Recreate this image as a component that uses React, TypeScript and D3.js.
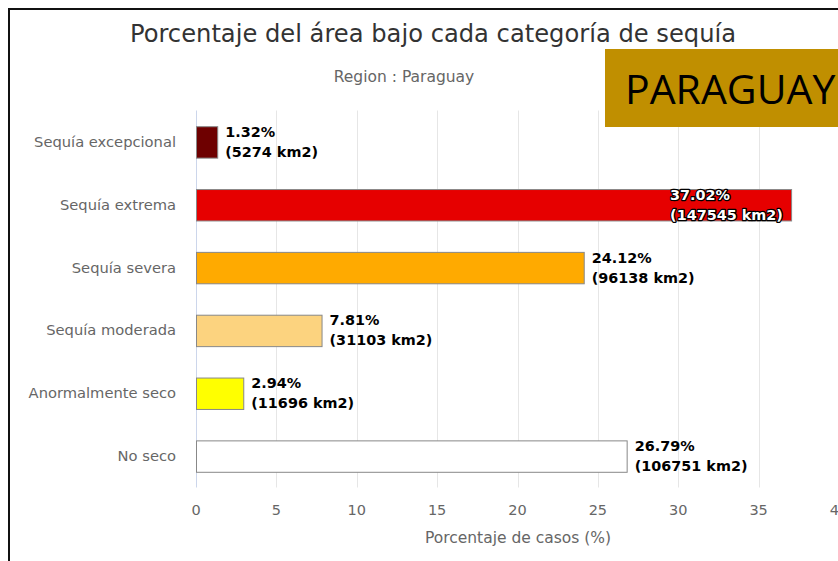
import React, { useEffect, useRef } from 'react';
import * as d3 from 'd3';

// datos
const categories = ['Sequía excepcional', 'Sequía extrema', 'Sequía severa', 'Sequía moderada', 'Anormalmente seco', 'No seco'];
const percents = [1.32, 37.02, 24.12, 7.81, 2.94, 26.79];
const areas = [5274, 147545, 96138, 31103, 11696, 106751];
const colors = ['#6e0000', '#e60000', '#ffaa00', '#fcd37f', '#ffff00', '#ffffff'];
const ticks = [0, 5, 10, 15, 20, 25, 30, 35, 40];

const font = '"DejaVu Sans", sans-serif';

export default function App() {
  const ref = useRef<SVGSVGElement>(null);

  useEffect(() => {
    document.body.style.margin = '0';
    const svg = d3.select(ref.current);
    svg.selectAll('*').remove();

    const left = 196, right = 839, top = 110.5, bottom = 487.5;
    const x = d3.scaleLinear().domain([0, 40]).range([left, right]);
    const y = d3.scaleBand().domain(categories).range([top, bottom]).paddingInner(0.5).paddingOuter(0.25);

    svg.append('rect').attr('width', 838).attr('height', 561).attr('fill', '#fff');

    // marco
    svg.append('path').attr('d', 'M9,561 L9,9 L840,9').attr('fill', 'none').attr('stroke', '#111').attr('stroke-width', 2);

    svg.append('text').attr('x', 433).attr('y', 42).attr('text-anchor', 'middle')
      .attr('font-family', font).attr('font-size', 24.2).attr('fill', '#333')
      .text('Porcentaje del área bajo cada categoría de sequía');
    svg.append('text').attr('x', 404).attr('y', 82).attr('text-anchor', 'middle')
      .attr('font-family', font).attr('font-size', 15.5).attr('fill', '#666')
      .text('Region : Paraguay');

    // rejilla
    svg.append('g').selectAll('line').data(ticks).enter().append('line')
      .attr('x1', d => Math.round(x(d)) + 0.5).attr('x2', d => Math.round(x(d)) + 0.5)
      .attr('y1', top).attr('y2', bottom)
      .attr('stroke', d => d === 0 ? '#ccd6eb' : '#e6e6e6').attr('stroke-width', 1);

    svg.append('g').selectAll('text').data(ticks).enter().append('text')
      .attr('x', d => x(d)).attr('y', 515).attr('text-anchor', 'middle')
      .attr('font-family', font).attr('font-size', 14.5).attr('fill', '#666')
      .text(d => d);

    svg.append('text').attr('x', 518).attr('y', 543).attr('text-anchor', 'middle')
      .attr('font-family', font).attr('font-size', 15.5).attr('fill', '#666')
      .text('Porcentaje de casos (%)');

    svg.append('g').selectAll('text').data(categories).enter().append('text')
      .attr('x', 176).attr('y', d => y(d)! + y.bandwidth() / 2 + 5).attr('text-anchor', 'end')
      .attr('font-family', font).attr('font-size', 14.7).attr('fill', '#666')
      .text(d => d);

    // barras
    svg.append('g').selectAll('rect').data(percents).enter().append('rect')
      .attr('x', x(0) + 0.5).attr('y', (d, i) => y(categories[i])! + 0.5)
      .attr('width', d => x(d) - x(0)).attr('height', y.bandwidth())
      .attr('fill', (d, i) => colors[i]).attr('stroke', '#888').attr('stroke-width', 1);

    // etiquetas
    const isInside = (d: number) => x(d) + 160 > 838;
    const lab = svg.append('g').selectAll('g').data(percents).enter().append('g')
      .attr('transform', (d, i) => {
        const cy = y(categories[i])! + y.bandwidth() / 2;
        return `translate(${isInside(d) ? x(d) - 121 : x(d) + 8},${cy})`;
      });
    lab.each(function (d, i) {
      const g = d3.select(this);
      const inside = isInside(d);
      const t = g.append('text').attr('font-family', font).attr('font-size', 14.4).attr('font-weight', 'bold')
        .attr('fill', inside ? '#fff' : '#000');
      if (inside) t.attr('stroke', '#000').attr('stroke-width', 2.5).attr('paint-order', 'stroke').attr('stroke-linejoin', 'round');
      t.append('tspan').attr('x', 0).attr('y', -5).text(`${d.toFixed(2)}%`);
      t.append('tspan').attr('x', 0).attr('y', 15).text(`(${areas[i]} km2)`);
    });

    // recuadro del país
    svg.append('rect').attr('x', 605).attr('y', 49).attr('width', 240).attr('height', 78).attr('fill', '#c08f00');
    svg.append('text').attr('x', 625).attr('y', 104).attr('font-family', '"Open Sans", "Noto Sans", sans-serif')
      .attr('font-size', 41).attr('fill', '#000').text('PARAGUAY');
  }, []);

  return <svg ref={ref} width={838} height={561} style={{ display: 'block' }} />;
}
